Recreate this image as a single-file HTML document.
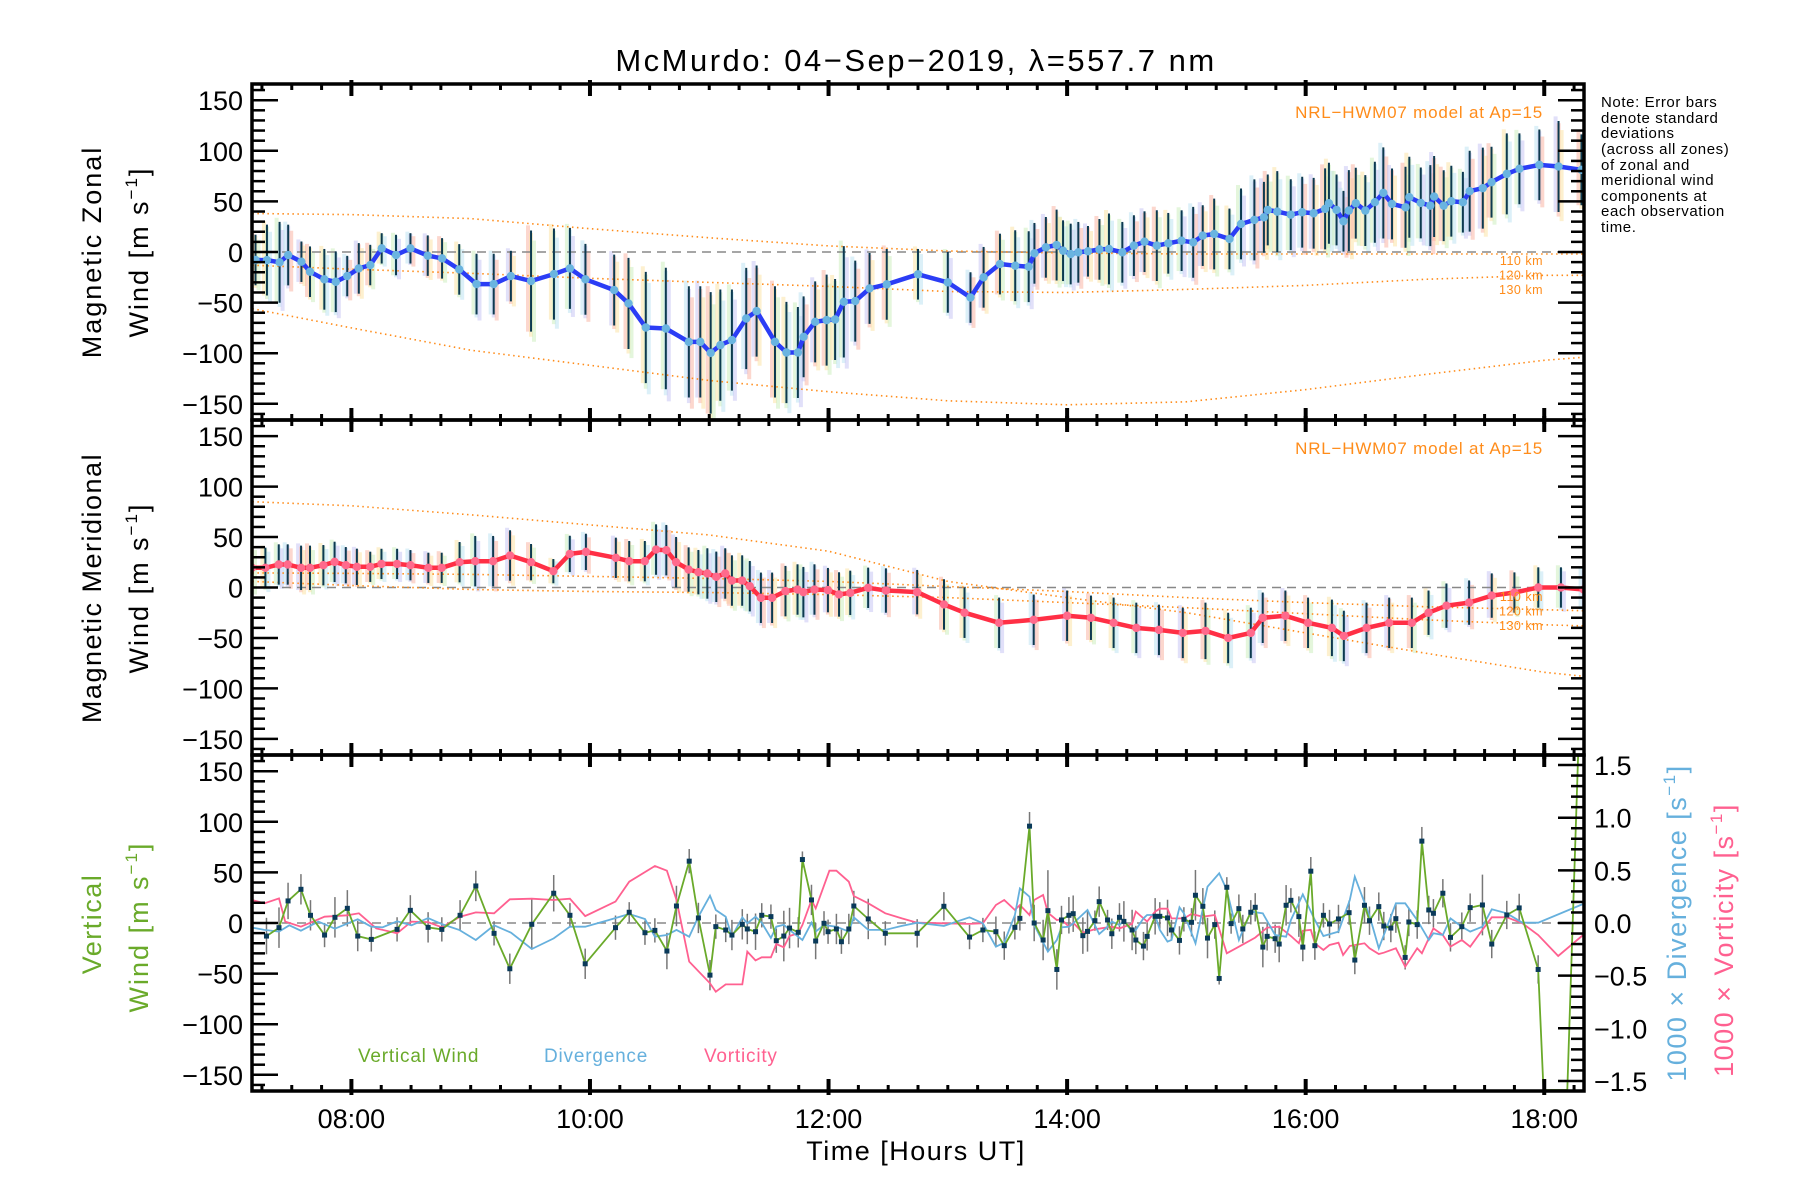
<!DOCTYPE html>
<html><head><meta charset="utf-8"><style>
html,body{margin:0;padding:0;background:#fff;width:1800px;height:1200px;overflow:hidden;}
svg{display:block;font-family:"Liberation Sans",sans-serif;overflow:hidden;}
</style></head><body>
<svg id="chart" width="1800" height="1200" viewBox="0 0 1800 1200" xmlns="http://www.w3.org/2000/svg">
<rect x="0" y="0" width="1800" height="1200" fill="#fff"/>
<text x="916" y="71" font-size="31" text-anchor="middle" fill="#000" letter-spacing="2.5">McMurdo: 04−Sep−2019, λ=557.7 nm</text>
<g font-size="15" fill="#000" letter-spacing="0.6">
<text x="1601" y="107">Note: Error bars</text>
<text x="1601" y="123">denote standard</text>
<text x="1601" y="138">deviations</text>
<text x="1601" y="154">(across all zones)</text>
<text x="1601" y="170">of zonal and</text>
<text x="1601" y="185">meridional wind</text>
<text x="1601" y="201">components at</text>
<text x="1601" y="216">each observation</text>
<text x="1601" y="232">time.</text>
</g>
<text x="916" y="1160" font-size="27" text-anchor="middle" letter-spacing="1.5">Time [Hours UT]</text>
<text transform="translate(101,252) rotate(-90)" font-size="27" text-anchor="middle" letter-spacing="2">Magnetic Zonal</text>
<text transform="translate(148,252) rotate(-90)" font-size="27" text-anchor="middle" letter-spacing="2">Wind [m s<tspan font-size="17" dy="-11">−1</tspan><tspan dy="11">]</tspan></text>
<text transform="translate(101,588) rotate(-90)" font-size="27" text-anchor="middle" letter-spacing="1.5">Magnetic Meridional</text>
<text transform="translate(148,588) rotate(-90)" font-size="27" text-anchor="middle" letter-spacing="2">Wind [m s<tspan font-size="17" dy="-11">−1</tspan><tspan dy="11">]</tspan></text>
<text transform="translate(101,924) rotate(-90)" font-size="27" text-anchor="middle" fill="#6aaa2a" letter-spacing="1.5">Vertical</text>
<text transform="translate(148,927) rotate(-90)" font-size="27" text-anchor="middle" fill="#6aaa2a" letter-spacing="2">Wind [m s<tspan font-size="17" dy="-11">−1</tspan><tspan dy="11">]</tspan></text>
<text transform="translate(1686,923) rotate(-90)" font-size="27" text-anchor="middle" fill="#66b0dd" letter-spacing="1.5">1000 × Divergence [s<tspan font-size="17" dy="-11">−1</tspan><tspan dy="11">]</tspan></text>
<text transform="translate(1733,940) rotate(-90)" font-size="27" text-anchor="middle" fill="#ff6090" letter-spacing="1.5">1000 × Vorticity [s<tspan font-size="17" dy="-11">−1</tspan><tspan dy="11">]</tspan></text>
<text x="358" y="1062" font-size="19" fill="#6aaa2a" letter-spacing="0.8">Vertical Wind</text>
<text x="544" y="1062" font-size="19" fill="#66b0dd" letter-spacing="0.8">Divergence</text>
<text x="704" y="1062" font-size="19" fill="#ff6090" letter-spacing="0.8">Vorticity</text>
<g id="plots"></g>
</svg>
<script>
// ---- data ----
const xTickLabels = ["08:00","10:00","12:00","14:00","16:00","18:00"];
const xTickHours = [8,10,12,14,16,18];
const yTickVals = [150,100,50,0,-50,-100,-150];
const rTickVals = [1.5,1.0,0.5,0.0,-0.5,-1.0,-1.5];
const rTickLabels = ["1.5","1.0","0.5","0.0","−0.5","−1.0","−1.5"];
const altLabels = ["110 km","120 km","130 km"];

const zT = [7.196,7.292,7.398,7.470,7.581,7.653,7.773,7.869,7.965,8.062,8.158,8.254,8.374,8.495,8.640,8.760,8.904,9.049,9.193,9.337,9.506,9.698,9.832,9.962,10.203,10.323,10.468,10.636,10.829,10.925,11.012,11.093,11.190,11.310,11.397,11.551,11.647,11.743,11.791,11.888,11.984,12.055,12.128,12.224,12.344,12.488,12.75,13.0,13.19,13.3,
13.437,13.565,13.678,13.726,13.822,13.912,13.966,14.030,14.094,14.175,14.271,14.351,14.463,14.560,14.649,14.752,14.848,14.960,15.057,15.137,15.233,15.361,15.458,15.570,15.650,15.682,15.762,15.875,15.971,16.067,16.163,16.195,16.259,16.317,16.362,16.420,16.500,16.580,16.651,16.724,16.837,16.869,16.965,17.045,17.077,17.157,17.221,17.318,17.375,17.485,17.558,17.686,17.792,17.959,18.120,18.312];
const zV = [-7.9,-8,-10.2,-3,-9.6,-19.5,-27,-29.4,-23.8,-16.2,-12.9,3.6,-3,3.6,-3.6,-6.3,-17.2,-31.7,-31.7,-23.8,-28.7,-21.8,-16.2,-27,-37.6,-50.8,-74.6,-75.6,-88.8,-88.8,-99.7,-92,-87,-65.7,-58.4,-88.8,-99.3,-99.3,-83.8,-69,-67.3,-66.7,-49.2,-48.5,-36,-32,-22,-30,-45,-25,
-11.9,-13.5,-14.5,-1.3,4.6,6.9,1.3,-2,-0.3,0.7,2.6,3,-0.3,6.3,10.2,6.3,8.6,11.2,9.6,16.2,17.8,12.9,27.7,31.7,34.3,41.6,39.9,36.9,39.3,38.3,42.6,48.2,41.6,30.4,40.9,48.2,40.9,49.2,58.4,47.5,44.2,54.1,48.5,45.8,54.8,45.8,50.2,49.2,60.1,63.1,69,77.2,82.2,86.1,84.5,81.2];
const zErr = [25,35,40,30,20,25,30,30,20,25,20,15,20,15,20,20,25,30,30,25,50,45,40,35,35,45,55,60,55,55,60,55,50,50,45,55,50,45,40,40,45,40,55,40,35,35,25,30,25,30,
30,35,35,30,30,35,30,30,30,25,30,35,30,30,30,35,30,30,35,30,35,30,35,40,35,35,40,35,35,35,40,40,35,30,40,35,35,40,45,35,40,40,35,40,40,35,35,30,40,40,35,40,35,35,45,35];

const mT = [7.167,7.279,7.391,7.466,7.578,7.653,7.765,7.859,7.953,8.046,8.158,8.252,8.383,8.495,8.645,8.757,8.907,9.038,9.188,9.330,9.506,9.693,9.831,9.966,10.217,10.329,10.460,10.554,10.640,10.722,10.827,10.909,10.984,11.059,11.134,11.190,11.276,11.340,11.433,11.527,11.639,11.740,11.789,11.882,11.995,12.088,12.182,12.332,12.481,12.743,12.968,
13.14,13.43,13.72,14.0,14.2,14.39,14.58,14.77,14.97,15.16,15.35,15.54,15.64,15.83,16.02,16.22,16.32,16.51,16.70,16.89,17.03,17.18,17.37,17.56,17.75,17.95,18.14,18.33];
const mV = [19.5,19.5,22.8,22.8,19.5,19.5,22.1,25.4,22.1,20.5,20.5,23.4,23.4,22.1,19.5,19.5,25.1,26.1,26.1,31.7,25.1,16.2,33.3,35.3,29.4,26.1,26.1,37.6,37,25.1,17.8,15.2,13.9,10.6,13.9,6.9,6.9,1.3,-10.2,-10.2,-3.6,-2,-4.6,-2,-2.6,-6.9,-5.3,-0.3,-3,-4.6,-16.8,
-25,-35,-32,-28,-30,-35,-40,-42,-45,-43,-50,-45,-30,-28,-35,-40,-48,-40,-35,-35,-25,-18,-15,-8,-5,0,0,-2];
const mErr = [22,20,20,20,22,22,20,20,18,18,15,15,15,15,15,15,20,25,25,25,18,12,18,18,20,20,20,25,25,25,22,22,25,25,25,25,25,25,25,25,25,25,25,25,22,22,22,20,22,22,25,
25,25,25,25,22,25,25,25,25,28,25,25,25,25,25,28,25,25,25,25,22,22,22,22,20,20,20,20];

const modT = [7.17,8,9,10,11,12,13,14,15,16,17,18,18.33];
const zonal110 = [38,37,33,23,14,6,1,-1,-2,-2,-2,-2,-2];
const zonal120 = [-13,-17,-21,-26,-30,-34,-39,-40,-37,-33,-27,-23,-23];
const zonal130 = [-56,-75,-97,-112,-127,-138,-147,-151,-148,-136,-121,-107,-104];
const merid110 = [85,81,72,62,52,36,6,-10,-25,-45,-65,-84,-88];
const merid120 = [14.5,14,13,11,9,6,1,-4,-10,-15,-19,-22,-23];
const merid130 = [6,2,-2,-4,-5,-7,-10,-15,-20,-26,-32,-37,-38];

const wT = [7.288,7.393,7.469,7.577,7.657,7.775,7.862,7.966,8.053,8.167,8.383,8.494,8.643,8.758,8.911,9.043,9.196,9.328,9.512,9.696,9.832,9.960,10.214,10.329,10.461,10.544,10.645,10.725,10.832,10.909,11.006,11.055,11.138,11.190,11.277,11.319,11.388,11.440,11.517,11.562,11.625,11.673,11.746,11.781,11.857,11.892,11.962,11.996,12.066,12.108,12.170,12.212,12.333,12.476,
12.743,12.967,13.182,13.294,13.403,13.473,13.562,13.604,13.685,13.724,13.799,13.839,13.914,13.953,14.015,14.051,14.132,14.171,14.233,14.269,14.339,14.375,14.439,14.476,14.545,14.576,14.640,14.671,14.738,14.777,14.842,14.875,14.942,14.979,15.043,15.076,15.138,15.177,15.238,15.275,15.339,15.375,15.440,15.473,15.540,15.577,15.641,15.677,15.744,15.778,15.836,15.876,15.943,15.976,16.043,16.077,16.149,16.200,16.275,16.364,
16.412,16.493,16.535,16.613,16.655,16.714,16.756,16.834,16.865,16.935,16.974,17.032,17.071,17.150,17.214,17.309,17.379,17.482,17.560,17.686,17.790,17.949];
const wV = [-12.9,-4.6,21.8,33.3,7.6,-11.9,5.6,14.5,-12.9,-16.2,-6.3,12.5,-4.3,-6.3,7.6,36.6,-10.2,-45.2,-1.3,29.4,7.6,-40.3,-4.6,10.6,-9.6,-7.3,-27.7,16.8,61.1,5,-51.5,-3.6,-6.9,-11.9,-1.3,-5.9,-8.6,7.6,6.3,-17.5,-12.9,-5,-9.2,62.7,22.8,-17.8,-0.3,-8.6,-5.9,-18.5,-5.9,16.8,4,-10.2,
-10.2,16.5,-13.9,-6.9,-8.6,-22.4,-4.3,4.6,95.7,0,-16.8,12.2,-45.9,3,7.6,9.2,-12.5,-8.3,2.3,21.1,3,-10.6,5.6,1.6,-6.9,-16.8,-22.8,-13.2,6.6,6.6,5,-6.9,-17.2,3.6,0.7,27.4,16.5,-14.9,-1.6,-54.8,35.3,-0.6,14.2,-5.9,10.6,15.5,-23.8,-13.2,-15.5,-20.8,17.5,22.4,6.3,-23.8,51.2,-22.4,7.6,-1,4,10.2,
-36.6,17.5,2.3,16.2,-3,-5,4.3,-34,1,-1.6,80.9,12.9,9.6,29.4,-14.2,-3.6,15.2,17.8,-20.8,7.9,14.9,-45.9];
const wErr = [18,20,18,15,15,12,20,18,15,12,12,15,15,12,15,15,12,15,25,18,12,15,12,10,12,12,18,20,12,15,15,12,12,15,15,15,18,12,12,12,25,20,15,8,15,18,12,12,15,12,15,15,20,12,
14,14,12,12,15,14,12,12,14,18,20,40,20,14,18,18,18,20,10,15,10,15,14,20,20,14,14,14,18,14,18,10,14,12,14,25,18,20,14,6,10,10,14,14,12,14,20,14,14,18,20,12,20,14,14,14,12,14,14,12,
14,18,14,14,14,14,14,12,14,14,14,14,14,14,14,14,14,30,14,14,14,14];
const wTailT = [17.949,17.994,18.193,18.284];
const wTailV = [-45.9,-165,-165,165];

const dT = [7.167,7.271,7.393,7.479,7.577,7.723,7.862,8.053,8.167,8.261,8.383,8.504,8.643,8.765,8.904,9.043,9.196,9.338,9.512,9.696,9.832,9.960,10.155,10.329,10.461,10.544,10.645,10.725,10.832,10.909,11.006,11.055,11.138,11.190,11.277,11.319,11.388,11.440,11.517,11.562,11.625,11.673,11.781,11.857,11.892,11.962,12.066,12.170,12.212,12.333,12.476,
12.615,12.743,12.967,13.182,13.294,13.403,13.473,13.562,13.604,13.685,13.724,13.839,13.914,13.953,14.015,14.051,14.171,14.269,14.339,14.375,14.439,14.476,14.545,14.576,14.640,14.671,14.738,14.777,14.842,14.875,14.942,14.979,15.076,15.177,15.275,15.339,15.440,15.540,15.641,15.744,15.836,15.876,15.976,16.077,16.149,16.275,16.370,
16.412,16.538,16.613,16.756,16.834,16.935,17.032,17.071,17.150,17.214,17.309,17.379,17.482,17.560,17.686,17.817,17.949,18.326];
const dV = [-0.044,-0.066,-0.082,-0.022,-0.073,0.013,-0.054,0.035,-0.035,-0.041,0.016,-0.022,0.047,-0.013,-0.066,-0.161,-0.022,-0.092,-0.247,-0.146,-0.035,-0.035,0.028,0.085,0.038,-0.130,-0.114,-0.066,-0.130,0.060,0.259,0.123,0.060,-0.130,0.054,-0.003,0.060,0.003,-0.142,-0.035,-0.016,-0.066,-0.161,0.003,-0.082,-0.019,-0.035,-0.082,0.054,-0.066,-0.066,
-0.028,0.003,-0.028,0.054,-0.003,-0.225,-0.187,0.076,0.329,0.250,-0.019,-0.272,-0.161,-0.041,-0.035,-0.003,0.123,-0.104,-0.035,0.013,-0.019,0.022,-0.082,-0.066,0.044,0.076,0.076,-0.066,-0.177,-0.161,0.149,0.092,-0.193,0.345,0.472,0.313,-0.161,0.108,0.092,-0.114,-0.130,0.028,0.272,0.028,-0.123,-0.082,0.218,
0.440,0.060,-0.240,0.187,0.187,0.028,-0.161,-0.098,-0.114,0.044,-0.035,-0.082,-0.035,0.130,0.092,0.003,0.003,0.180];

const vT = [7.167,7.271,7.393,7.445,7.577,7.775,7.966,8.063,8.209,8.383,8.504,8.643,8.758,8.911,9.043,9.196,9.328,9.512,9.696,9.832,9.960,10.214,10.329,10.544,10.645,10.725,10.832,11.006,11.055,11.138,11.277,11.319,11.388,11.440,11.517,11.562,11.625,11.673,11.746,11.781,11.857,11.892,12.007,12.066,12.170,12.212,12.333,12.476,
12.615,12.743,12.967,13.182,13.294,13.403,13.473,13.562,13.604,13.685,13.724,13.799,13.839,13.914,13.953,14.015,14.051,14.132,14.233,14.375,14.439,14.545,14.576,14.671,14.738,14.777,14.842,14.875,14.979,15.043,15.138,15.238,15.339,15.440,15.577,15.677,15.778,15.876,15.943,15.976,16.043,16.077,16.149,16.200,16.275,16.314,16.370,
16.493,16.535,16.613,16.655,16.756,16.834,16.935,16.974,17.071,17.150,17.214,17.309,17.379,17.482,17.560,17.686,17.817,17.949,18.117,18.326];
const vV = [0.218,0.187,0.234,0.013,-0.035,0.060,0.073,0.092,-0.051,-0.098,0.013,0.009,-0.041,0.060,0.101,0.092,0.225,0.231,0.218,0.231,0.066,0.203,0.392,0.541,0.497,0.218,-0.367,-0.573,-0.652,-0.583,-0.583,-0.272,-0.355,-0.326,-0.326,-0.199,-0.231,-0.123,-0.098,-0.019,0.218,0.139,0.497,0.497,0.392,0.256,0.187,0.092,
0.044,0.003,-0.003,-0.009,-0.003,0.171,0.218,0.123,0.171,0.076,0.218,0.266,0.098,0.028,0.035,-0.035,0.003,-0.092,-0.060,-0.035,-0.051,-0.009,0.108,0.013,0.108,0.136,0.136,0.044,0.044,0.085,0.060,0.076,-0.288,-0.225,-0.139,-0.044,-0.035,-0.123,-0.193,-0.073,-0.066,-0.193,-0.256,-0.209,-0.187,-0.304,-0.218,
-0.193,-0.240,-0.294,-0.282,-0.240,-0.415,-0.240,-0.288,-0.051,-0.114,-0.225,-0.161,-0.225,-0.066,0.054,0.054,-0.003,-0.114,-0.313,-0.114];

// ---- layout ----
const X0 = 252, X1 = 1584, H0 = 7 + 10/60, H1 = 18 + 20/60;
const panels = [{top:84,bot:420},{top:420,bot:755},{top:755,bot:1091}];
const YR = 166;
const NS = "http://www.w3.org/2000/svg";
const root = document.getElementById('plots');
function xs(h){ return X0 + (h - H0) / (H1 - H0) * (X1 - X0); }
function ysF(p){ const c=(p.top+p.bot)/2, k=(p.bot-p.top)/2/YR; return v => c - v*k; }
function rs(v){ const p=panels[2]; return (p.top+p.bot)/2 - v*105.3; }
function mk(tag, attrs, parent){ const e=document.createElementNS(NS,tag); for(const k in attrs) e.setAttribute(k, attrs[k]); (parent||root).appendChild(e); return e; }
function pts(T,V,yf){ return T.map((t,i)=>xs(t).toFixed(1)+','+yf(V[i]).toFixed(1)).join(' '); }

const defs = mk('defs',{});
panels.forEach((p,i)=>{
  const cp = mk('clipPath',{id:'clip'+i},defs);
  mk('rect',{x:X0,y:p.top,width:X1-X0,height:p.bot-p.top},cp);
});

const pastel = ['#f9b7a6','#fbe3a8','#cdeec0','#bfe4f2','#c9c6f4'];

function windPanel(pi, T, V, E, mods, lineColor, dotColor, name){
  const p = panels[pi], ys = ysF(p);
  const g = mk('g',{'clip-path':'url(#clip'+pi+')'});
  
  
  T.forEach((t,i)=>{
    const x = xs(t);
    for(let k=0;k<3;k++){
      const r = mk('rect',{x:(x-5+k*3).toFixed(1), y:ys(V[i]+E[i]*(1.1-0.15*k)), width:4, height:Math.max(1, ys(V[i]-E[i]*(1.0+0.1*k))-ys(V[i]+E[i]*(1.1-0.15*k))), fill:pastel[(i+k)%5], opacity:0.55},g);
      
      
    }
  });
  const z = mk('line',{x1:X0,x2:X1,y1:ys(0),y2:ys(0),stroke:'#888','stroke-width':1.5,'stroke-dasharray':'9,6'},g);
  
  
  mods.forEach((m,j)=>{
    const l = mk('polyline',{points:pts(modT,m,ys),fill:'none',stroke:'#ff8c1a','stroke-width':1.6,'stroke-dasharray':'1.5,3.5'},g);
    
    
  });
  T.forEach((t,i)=>{
    const e = mk('line',{x1:xs(t),x2:xs(t),y1:ys(V[i]+E[i]),y2:ys(V[i]-E[i]),stroke:'#0d3a50','stroke-width':2},g);
    
    
  });
  const ln = mk('polyline',{points:pts(T,V,ys),fill:'none',stroke:lineColor,'stroke-width':4.5,'stroke-linejoin':'round'},g);
  
  
  T.forEach((t,i)=>{
    const c = mk('circle',{cx:xs(t),cy:ys(V[i]),r:4.2,fill:dotColor},g);
    
    
  });
  const lab = mk('text',{x:1543,y:p.top+34,'font-size':17,'text-anchor':'end',fill:'#ff8c1a','letter-spacing':0.8});
  lab.textContent = 'NRL−HWM07 model at Ap=15';
  
  
  altLabels.forEach((a,j)=>{
    const t = mk('text',{x:1543,y:p.top+181+j*14.5,'font-size':12.5,'text-anchor':'end',fill:'#ff8c1a','letter-spacing':0.5});
    t.textContent = a;
    
    
  });
}
windPanel(0, zT, zV, zErr, [zonal110,zonal120,zonal130], '#2b3df5', '#6ab4e0', 'zonal');
windPanel(1, mT, mV, mErr, [merid110,merid120,merid130], '#ff2f45', '#ff6a8c', 'meridional');

(function(){
  const p = panels[2], ys = ysF(p);
  const g = mk('g',{'clip-path':'url(#clip2)'});
  
  
  const z = mk('line',{x1:X0,x2:X1,y1:ys(0),y2:ys(0),stroke:'#888','stroke-width':1.5,'stroke-dasharray':'9,6'},g);
  
  
  wT.forEach((t,i)=>{
    const e = mk('line',{x1:xs(t),x2:xs(t),y1:ys(wV[i]+wErr[i]),y2:ys(wV[i]-wErr[i]),stroke:'#777','stroke-width':1.5},g);
    
    
  });
  const vl = mk('polyline',{points:pts(vT,vV,rs),fill:'none',stroke:'#ff6090','stroke-width':1.8},g);
  
  
  const dl = mk('polyline',{points:pts(dT,dV,rs),fill:'none',stroke:'#66b0dd','stroke-width':1.8},g);
  
  
  const wl = mk('polyline',{points:pts(wT,wV,ys),fill:'none',stroke:'#6aaa2a','stroke-width':1.8},g);
  
  
  const wt = mk('polyline',{points:pts(wTailT,wTailV,ys),fill:'none',stroke:'#6aaa2a','stroke-width':1.8},g);
  
  
  wT.forEach((t,i)=>{
    const r = mk('rect',{x:xs(t)-2.5,y:ys(wV[i])-2.5,width:5,height:5,fill:'#0a3a5a'},g);
    
    
  });
})();

const ax = mk('g',{stroke:'#000',fill:'none'});


panels.forEach((p,pi)=>{
  const ys = ysF(p);
  for(let v=-160; v<=160; v+=10){
    const major = v%50===0, L = major?26:13, y=ys(v);
    mk('line',{x1:X0,x2:X0+L,y1:y,y2:y,'stroke-width':2.5},ax);
    if(pi<2) mk('line',{x1:X1,x2:X1-L,y1:y,y2:y,'stroke-width':2.5},ax);
  }
  for(let m=Math.ceil(H0*4); m<=H1*4; m++){
    const h=m/4, x=xs(h), major = (m%8===0);
    const L = major?12:6;
    mk('line',{x1:x,x2:x,y1:p.top-(major?4:0),y2:p.top+L,'stroke-width':major?4:3},ax);
    mk('line',{x1:x,x2:x,y1:p.bot+(major?4:0),y2:p.bot-L,'stroke-width':major?4:3},ax);
  }
  mk('rect',{x:X0,y:p.top,width:X1-X0,height:p.bot-p.top,'stroke-width':3.5},ax);
  yTickVals.forEach(v=>{
    const t = mk('text',{x:243,y:ys(v)+10,'font-size':27,'text-anchor':'end',fill:'#000',stroke:'none'});
    t.textContent = (v<0?'−':'')+Math.abs(v);
    
    
  });
});
for(let k=-15;k<=15;k++){
  const v=k/10, major=(k%5===0), L=major?26:13;
  mk('line',{x1:X1,x2:X1-L,y1:rs(v),y2:rs(v),'stroke-width':2.5},ax);
}
rTickVals.forEach((v,i)=>{
  const t = mk('text',{x:1594,y:rs(v)+10,'font-size':27,fill:'#000'});
  t.textContent = rTickLabels[i];
  
  
});
xTickHours.forEach((h,i)=>{
  const t = mk('text',{x:xs(h),y:1128,'font-size':27,'text-anchor':'middle',fill:'#000'});
  t.textContent = xTickLabels[i];
  
  
});
</script>
</body></html>
